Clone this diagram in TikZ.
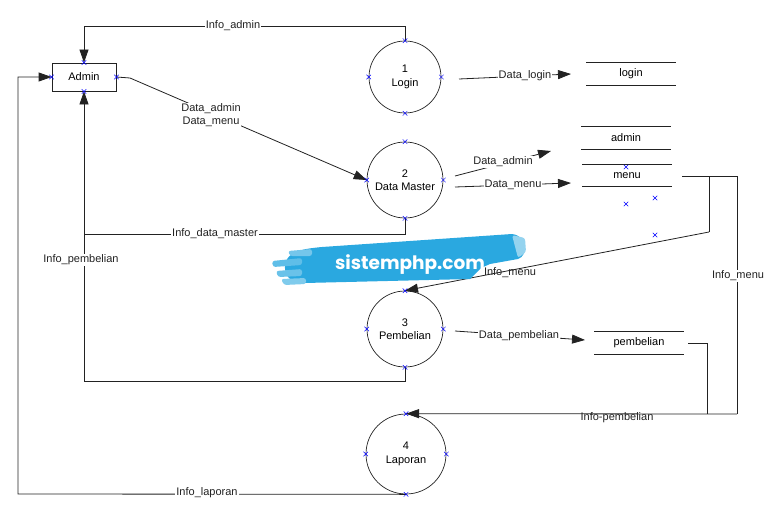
\documentclass[tikz,border=0pt]{standalone}
\usepackage{fontspec}
\setmainfont{Liberation Sans}
\newfontfamily\wmfont{Poppins}
\usetikzlibrary{arrows.meta,shapes.misc,calc}
\definecolor{wmblue}{HTML}{2AA8E0}
\definecolor{ln}{HTML}{222222}
\begin{document}
\begin{tikzpicture}[x=1pt,y=-1pt, font=\fontsize{11}{13.5}\selectfont,
 proc/.style={circle,draw=ln,line width=0.7pt,inner sep=0pt,align=center},
 ent/.style={draw=ln,line width=0.8pt,minimum width=64pt,minimum height=28pt,inner sep=0pt},
 store/.style={minimum width=89pt,minimum height=22pt,inner sep=0pt},
 flow/.style={draw=ln,line width=0.8pt},
 arr/.style={flow,-{Triangle[length=13pt,width=9pt]}},
 lbl/.style={fill=white,inner sep=1pt,text=ln},
 mk/.style={draw=blue,cross out,minimum size=4pt,inner sep=0pt,line width=0.5pt}]
\useasboundingbox (0,0) rectangle (776,511);

% entity and processes
\node[ent] (admin) at (84,77) {Admin};
\node[proc,minimum size=72pt] (p1) at (405,77) {1\\Login};
\node[proc,minimum size=76pt] (p2) at (405,180) {2\\Data Master};
\node[proc,minimum size=76pt] (p3) at (405,329) {3\\Pembelian};
\node[proc,minimum size=80pt] (p4) at (406,454) {4\\Laporan};

% data stores
\node[store] (slogin) at (631,74) {login};
\node[store] (sadmin) at (626,138) {admin};
\node[store] (smenu) at (627,175.5) {menu};
\node[store] (spemb) at (639,343) {pembelian};
\foreach \s in {slogin,sadmin,smenu,spemb}
  \draw[flow] (\s.north west) -- (\s.north east) (\s.south west) -- (\s.south east);

% coordinates for free ends
\coordinate (a1) at (459,79);   \coordinate (b1) at (571,74);
\coordinate (a2) at (455,176);  \coordinate (b2) at (551,151);
\coordinate (a3) at (455,187);  \coordinate (b3) at (571,183);
\coordinate (a4) at (455,331);  \coordinate (b4) at (585,340);
\coordinate (m1) at (682,176);  \coordinate (m2) at (709,176);
\coordinate (m3) at (709,232);  \coordinate (m4) at (737,176);
\coordinate (m5) at (737,414);
\coordinate (q1) at (688,343);  \coordinate (q2) at (707,343);
\coordinate (q3) at (707,414);

% flows
\draw[arr] (p1.north) -- (405,26) -| (admin.north);
\node[lbl] (l1) at (233,26) {Info\_admin};

\draw[arr] (p4.south) -- (18,494) -- (18,77) -- (admin.west);
\node[lbl] (l2) at (207,493) {Info\_laporan};

\draw[arr] (admin.east) -- (130,78) -- (p2.west);
\node[lbl,align=center,inner sep=0pt] (l3) at (211,115) {Data\_admin\\Data\_menu};

\draw[arr] (a1) -- (b1);
\node[lbl,inner sep=0.5pt] (l4) at (525,76) {Data\_login};

\draw[arr] (a2) -- (b2);
\node[lbl,inner sep=0.5pt] (l5) at (503,162) {Data\_admin};

\draw[arr] (a3) -- (b3);
\node[lbl,inner sep=0.5pt] (l6) at (513,185) {Data\_menu};

\draw[arr] (p2.south) -- (405,234) -| (admin.south);
\node[lbl] (l7) at (215,234) {Info\_data\_master};

\draw[flow] (p3.south) -- (405,381) -- (84,381) -- (84,234);
\node[lbl,inner sep=0.5pt] (l8) at (81,260) {Info\_pembelian};

\draw[flow] (m1) -- (m2) -- (m3);
\draw[arr] (m3) -- (p3.north);
\node[lbl,fill=none] (l9) at (510,273) {Info\_menu};

\draw[flow] (m2) -- (m4) -- (m5);
\draw[arr] (m5) -- (p4.north);
\node[lbl,inner sep=0.5pt] (l10) at (738,276) {Info\_menu};

\draw[flow] (q1) -- (q2) -- (q3);
\node[lbl,fill=none] (l11) at (617,418) {Info-pembelian};

\draw[arr] (a4) -- (b4);
\node[lbl,inner sep=0.5pt] (l12) at (519,336) {Data\_pembelian};

% connection markers
\foreach \n in {admin,p1,p2,p3,p4}
  \foreach \a in {north,south,east,west}
    \node[mk] at (\n.\a) {};
\node[mk] at (626,167) {};
\node[mk] at (626,204) {};
\node[mk] at (655,198) {};
\node[mk] at (655,235) {};

% watermark (brush stroke)
\fill[wmblue] (285,264) .. controls (288,252) and (300,249) .. (322,247)
  -- (512,234) .. controls (528,236) and (528,256) .. (518,259)
  -- (490,264) -- (481,268) -- (470,279) -- (305,283) .. controls (290,283) and (284,276) .. (285,264) -- cycle;
\begin{scope}[rounded corners=2.5pt]
\fill[wmblue!75] (272,261) -- (302,258) -- (302,265) -- (273,267) -- cycle;
\fill[wmblue!70] (276,271) -- (302,269) -- (302,276) -- (278,277) -- cycle;
\fill[wmblue!60] (281,279) -- (306,278) -- (306,284) -- (284,285) -- cycle;
\fill[wmblue!65] (288,251) -- (312,249) -- (312,256) -- (290,256) -- cycle;
\fill[wmblue!50] (512,235) -- (525,238) -- (526,252) -- (518,258) -- cycle;
\end{scope}
\node[text=white,font=\wmfont\bfseries\fontsize{18.5}{22}\selectfont] (wm) at (410,265) {sistemphp.com};
\end{tikzpicture}
\end{document}
